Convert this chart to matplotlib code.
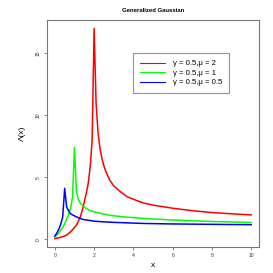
import matplotlib
matplotlib.use("Agg")
import matplotlib.pyplot as plt

plt.rcParams['font.family'] = ['Liberation Sans', 'DejaVu Sans']

# values
x_mu2 = [0, 0.3, 0.59, 0.8, 1.1, 1.3, 1.44, 1.6, 1.7, 1.8, 1.9, 2.0, 2.1, 2.2, 2.3,
         2.4, 2.5, 2.6, 2.8, 3.0, 3.4, 3.72, 4.2, 4.57, 5.0, 6.0, 7.0, 8.0, 9.0, 10.0]
y_mu2 = [0.05, 0.15, 0.32, 0.6, 1.13, 1.8, 2.6, 3.7, 4.5, 5.8, 8.0, 17.0, 11.0, 8.6, 7.3,
         6.5, 5.9, 5.45, 4.75, 4.3, 3.75, 3.4, 3.1, 2.9, 2.75, 2.5, 2.3, 2.15, 2.05, 1.96]

x_mu1 = [0, 0.2, 0.42, 0.6, 0.7, 0.8, 0.9, 1.0, 1.1, 1.2, 1.3, 1.4, 1.6, 1.8, 2.03,
         2.28, 2.79, 3.5, 4.57, 6.0, 8.0, 10.0]
y_mu1 = [0.19, 0.5, 1.0, 1.6, 2.0, 2.5, 3.4, 7.4, 3.8, 3.2, 2.9, 2.75, 2.47, 2.3, 2.2,
         2.1, 1.93, 1.8, 1.67, 1.55, 1.43, 1.35]

x_mu05 = [0, 0.1, 0.2, 0.3, 0.4, 0.5, 0.6, 0.7, 0.8, 0.93, 1.1, 1.44, 2.03, 2.5, 3.0,
          4.0, 4.57, 6.0, 8.0, 10.0]
y_mu05 = [0.25, 0.5, 0.8, 1.2, 1.8, 4.1, 2.6, 2.3, 2.05, 1.94, 1.8, 1.59, 1.45, 1.4, 1.36,
          1.3, 1.27, 1.23, 1.2, 1.17]

labels = ['\u03b3 = 0.5,\u03bc = 2', '\u03b3 = 0.5,\u03bc = 1', '\u03b3 = 0.5,\u03bc = 0.5']
colors = ['#ff0000', '#00ff00', '#0000ff']
xticks = [0, 2, 4, 6, 8, 10]
yticks = [0, 5, 10, 15]

fig = plt.figure(figsize=(2.73, 2.73), dpi=100)
ax = fig.add_axes([47/273, 26/273, 212/273, 227/273])

ax.plot(x_mu2, y_mu2, color=colors[0], lw=1.1, label=labels[0])
ax.plot(x_mu1, y_mu1, color=colors[1], lw=1.1, label=labels[1])
ax.plot(x_mu05, y_mu05, color=colors[2], lw=1.1, label=labels[2])

ax.set_xlim(-0.4, 10.4)
ax.set_ylim(0.05 - 0.04*16.95, 17.0 + 0.04*16.95)
ax.set_xticks(xticks)
ax.set_yticks(yticks)
ax.tick_params(labelsize=3.6, length=2.5, width=0.5, color='#555555',
               labelcolor='#333333', pad=2)
for t in ax.get_yticklabels():
    t.set_rotation(90)
    t.set_va('center')
for s in ax.spines.values():
    s.set_linewidth(0.8)
    s.set_color('#777777')

ax.set_title('Generalized Gaussian', fontsize=4.3, fontweight='bold', pad=6)
ax.set_xlabel('x', fontsize=6, labelpad=3)
ax.set_ylabel('\u039b(x)', fontsize=6, labelpad=7)

leg = ax.legend(loc='upper left', bbox_to_anchor=(86/212, 1 - 33/227), fontsize=5.6,
                frameon=True, fancybox=False, edgecolor='#777777', handlelength=3.2,
                handletextpad=1.0, borderpad=0.9, labelspacing=0.25, borderaxespad=0)
leg.get_frame().set_linewidth(0.8)
for h in leg.get_lines():
    h.set_linewidth(0.8)

fig.savefig('out.png', dpi=100)
